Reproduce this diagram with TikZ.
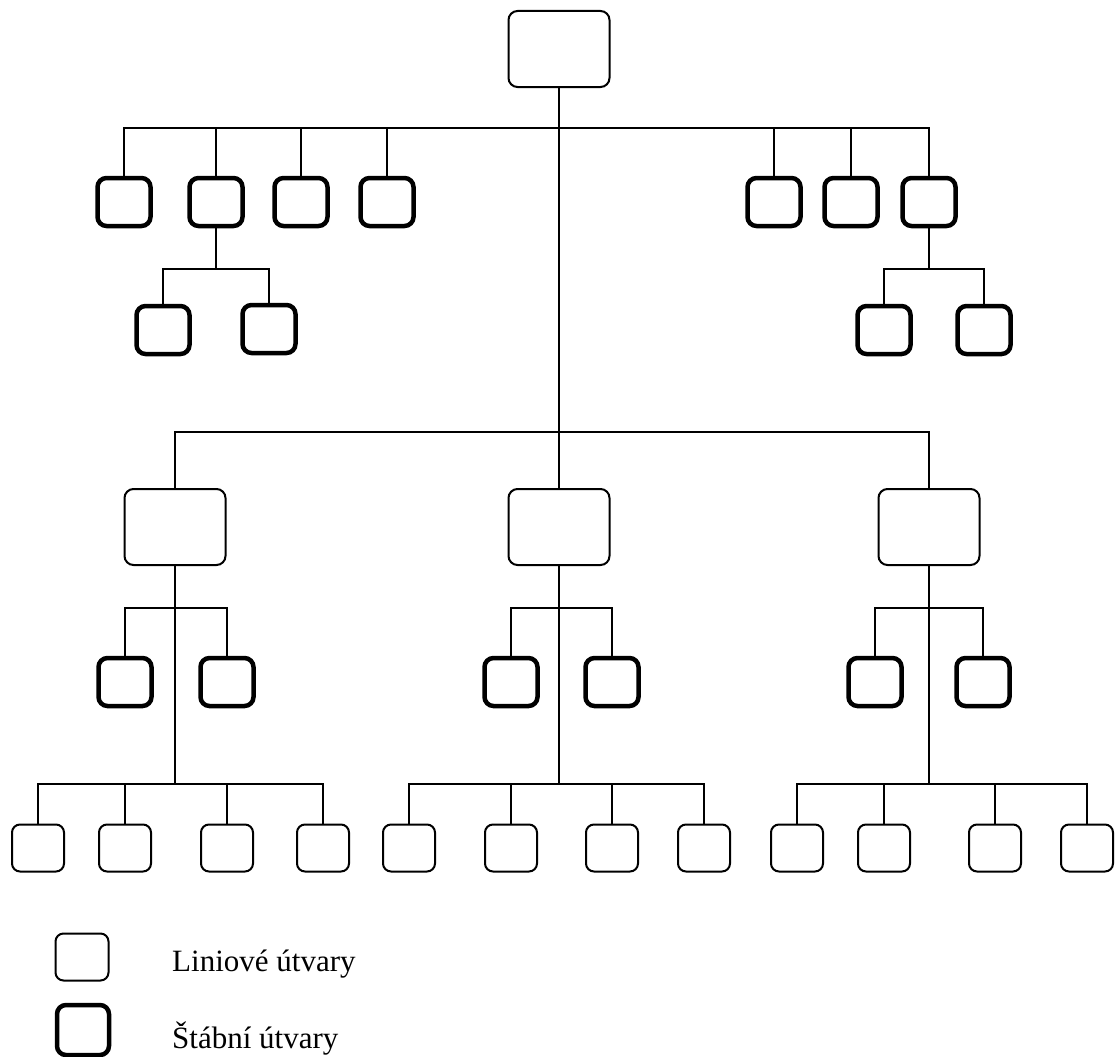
\documentclass[tikz,border=0pt]{standalone}
\usepackage{fontspec}
\setmainfont{Liberation Serif}

\begin{document}
\begin{tikzpicture}[x=1pt, y=-1pt,
    linebox/.style={draw, line width=2pt, rounded corners=9pt, minimum width=101pt, minimum height=76pt, inner sep=0pt},
    smallbox/.style={draw, line width=2pt, rounded corners=8pt, minimum width=52pt, minimum height=47pt, inner sep=0pt},
    staffbox/.style={draw, line width=4.5pt, rounded corners=9pt, minimum width=53pt, minimum height=48pt, inner sep=0pt},
    conn/.style={line width=1.5pt},
    legendtext/.style={anchor=base west, inner sep=0pt, font=\fontsize{31}{37}\selectfont}]
    \useasboundingbox (0,0) rectangle (1116,1057);

    % vedeni
    \node[linebox] (top) at (559,49) {};

    % stabni utvary u vedeni
    \node[staffbox] (sl1) at (124,202) {};
    \node[staffbox] (sl2) at (216,202) {};
    \node[staffbox] (sl3) at (301,202) {};
    \node[staffbox] (sl4) at (387,202) {};
    \node[staffbox] (sr1) at (774,202) {};
    \node[staffbox] (sr2) at (851,202) {};
    \node[staffbox] (sr3) at (929,202) {};

    \node[staffbox] (sl2a) at (163,330) {};
    \node[staffbox] (sl2b) at (269,329) {};
    \node[staffbox] (sr3a) at (884,330) {};
    \node[staffbox] (sr3b) at (984,330) {};

    % liniove utvary
    \node[linebox] (lin1) at (175,527) {};
    \node[linebox] (lin2) at (559,527) {};
    \node[linebox] (lin3) at (929,527) {};

    \node[staffbox] (s1a) at (125,682) {};
    \node[staffbox] (s1b) at (227,682) {};
    \node[staffbox] (s2a) at (511,682) {};
    \node[staffbox] (s2b) at (612,682) {};
    \node[staffbox] (s3a) at (875,682) {};
    \node[staffbox] (s3b) at (983,682) {};

    \node[smallbox] (b1a) at (38,848) {};
    \node[smallbox] (b1b) at (125,848) {};
    \node[smallbox] (b1c) at (227,848) {};
    \node[smallbox] (b1d) at (323,848) {};
    \node[smallbox] (b2a) at (409,848) {};
    \node[smallbox] (b2b) at (511,848) {};
    \node[smallbox] (b2c) at (612,848) {};
    \node[smallbox] (b2d) at (704,848) {};
    \node[smallbox] (b3a) at (797,848) {};
    \node[smallbox] (b3b) at (884,848) {};
    \node[smallbox] (b3c) at (995,848) {};
    \node[smallbox] (b3d) at (1087,848) {};

    % sbernice
    \coordinate (busA) at (0,128);
    \coordinate (busB) at (0,269);
    \coordinate (busC) at (0,432);
    \coordinate (busD) at (0,608);
    \coordinate (busE) at (0,784);

    \draw[conn] (top.south) -- (lin2.north);
    \draw[conn] (sl1.north) -- (sl1.north |- busA) -- (sr3.north |- busA) -- (sr3.north);
    \draw[conn] (sl2.north) -- (sl2.north |- busA);
    \draw[conn] (sl3.north) -- (sl3.north |- busA);
    \draw[conn] (sl4.north) -- (sl4.north |- busA);
    \draw[conn] (sr1.north) -- (sr1.north |- busA);
    \draw[conn] (sr2.north) -- (sr2.north |- busA);

    \draw[conn] (sl2.south) -- (sl2.south |- busB);
    \draw[conn] (sl2a.north) -- (sl2a.north |- busB) -- (sl2b.north |- busB) -- (sl2b.north);
    \draw[conn] (sr3.south) -- (sr3.south |- busB);
    \draw[conn] (sr3a.north) -- (sr3a.north |- busB) -- (sr3b.north |- busB) -- (sr3b.north);

    \draw[conn] (lin1.north) -- (lin1.north |- busC) -- (lin3.north |- busC) -- (lin3.north);

    \draw[conn] (lin1.south) -- (lin1.south |- busE);
    \draw[conn] (lin2.south) -- (lin2.south |- busE);
    \draw[conn] (lin3.south) -- (lin3.south |- busE);

    \draw[conn] (s1a.north) -- (s1a.north |- busD) -- (s1b.north |- busD) -- (s1b.north);
    \draw[conn] (s2a.north) -- (s2a.north |- busD) -- (s2b.north |- busD) -- (s2b.north);
    \draw[conn] (s3a.north) -- (s3a.north |- busD) -- (s3b.north |- busD) -- (s3b.north);

    \draw[conn] (b1a.north) -- (b1a.north |- busE) -- (b1d.north |- busE) -- (b1d.north);
    \draw[conn] (b1b.north) -- (b1b.north |- busE);
    \draw[conn] (b1c.north) -- (b1c.north |- busE);
    \draw[conn] (b2a.north) -- (b2a.north |- busE) -- (b2d.north |- busE) -- (b2d.north);
    \draw[conn] (b2b.north) -- (b2b.north |- busE);
    \draw[conn] (b2c.north) -- (b2c.north |- busE);
    \draw[conn] (b3a.north) -- (b3a.north |- busE) -- (b3d.north |- busE) -- (b3d.north);
    \draw[conn] (b3b.north) -- (b3b.north |- busE);
    \draw[conn] (b3c.north) -- (b3c.north |- busE);

    % legenda
    \node[smallbox, minimum width=53pt] (legline) at (82,957) {};
    \node[staffbox, minimum width=52pt, minimum height=50pt] (legstaff) at (83,1030) {};
    \node[legendtext] (leglinetext) at (172,971.5) {Liniové útvary};
    \node[legendtext] (legstafftext) at (172,1048.5) {Štábní útvary};
\end{tikzpicture}
\end{document}
